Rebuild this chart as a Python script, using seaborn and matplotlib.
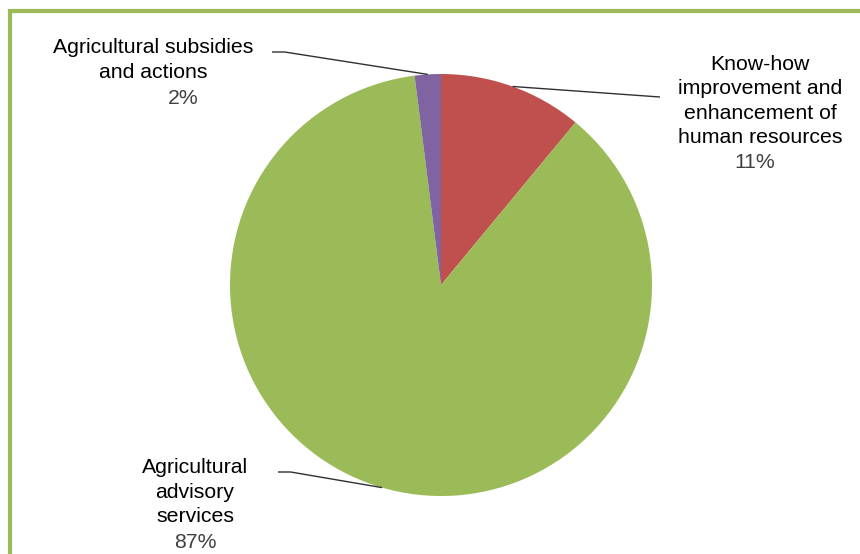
import numpy as np
import matplotlib
matplotlib.use("Agg")
import matplotlib.pyplot as plt
from matplotlib.lines import Line2D
import seaborn as sns

# Budget shares by measure (percent)
categories = ["Know-how\nimprovement and\nenhancement of\nhuman resources",
              "Agricultural\nadvisory\nservices",
              "Agricultural subsidies\nand actions"]
shares = [11, 87, 2]
colors = ["#C0504D", "#9BBB59", "#8064A2"]

sns.set_theme(style="white")
plt.rcParams["font.family"] = ["Liberation Sans", "DejaVu Sans"]

W, H = 860, 554
fig = plt.figure(figsize=(W / 100, H / 100), dpi=100)
fig.patch.set_facecolor("white")

# pie axes: centre (441, 285) px, radius 211 px
cx, cy, r = 441, 285, 211
ax = fig.add_axes([(cx - r) / W, (H - cy - r) / H, 2 * r / W, 2 * r / H])
wedges, _ = ax.pie(shares, colors=colors, startangle=90, counterclock=False,
                   radius=1, wedgeprops=dict(linewidth=0))
ax.set_xlim(-1, 1)
ax.set_ylim(-1, 1)
ax.set_aspect("equal")
ax.axis("off")


def px(x, y):
    """pixel position -> pie data coordinates"""
    return (x - cx) / r, (cy - y) / r


FS = 15.3
# label layout: (text centre, percent centre, leader end, leader direction)
layout = [
    ((760, 101), (755, 163), (660, 97), 0),
    ((195, 492), (195, 542), (278, 472), -1),
    ((153, 60), (183, 98), (272, 52), -1),
]

for w, name, val, (tc, pc, le, d) in zip(wedges, categories, shares, layout):
    mid = np.deg2rad((w.theta1 + w.theta2) / 2)
    ax_x, ax_y = np.cos(mid), np.sin(mid)
    tx, ty = px(*tc)
    ax.text(tx, ty, name, ha="center", va="center", fontsize=FS,
            color="black", linespacing=1.36, clip_on=False)
    qx, qy = px(*pc)
    ax.text(qx, qy, f"{val}%", ha="center", va="center", fontsize=FS,
            color="#404040", clip_on=False)
    lx, ly = px(*le)
    xs = [lx, lx + (-d) * 0.06 if d else lx, ax_x]
    ys = [ly, ly, ax_y]
    ax.plot(xs, ys, color="#303030", lw=1.0, clip_on=False,
            solid_capstyle="butt")

# green frame along the top and left edges
fig.add_artist(Line2D([9.5 / W, 9.5 / W], [0, 1 - 9 / H], color="#9BBB59",
                      lw=3, transform=fig.transFigure, solid_capstyle="butt"))
fig.add_artist(Line2D([8 / W, 1], [1 - 10.5 / H, 1 - 10.5 / H], color="#9BBB59",
                      lw=3, transform=fig.transFigure, solid_capstyle="butt"))

fig.savefig("out.png", dpi=100)
